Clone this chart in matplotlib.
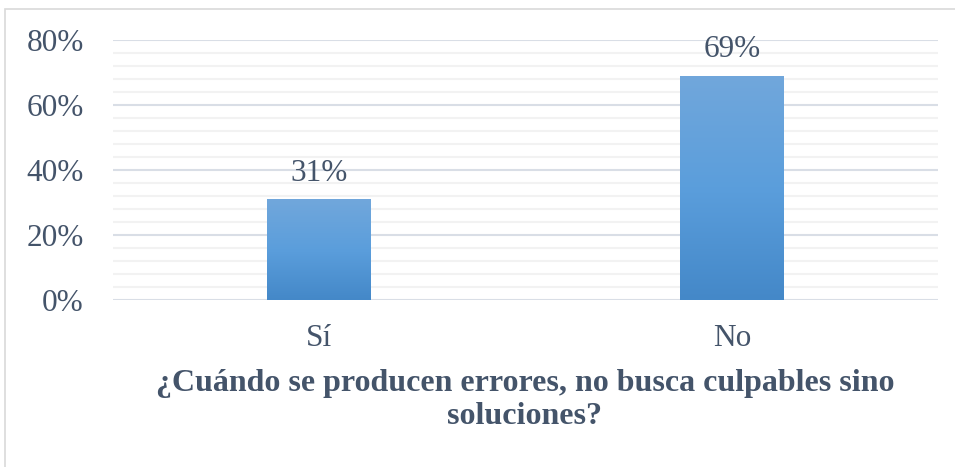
import numpy as np
import matplotlib.pyplot as plt
from matplotlib.patches import Rectangle
from matplotlib.colors import LinearSegmentedColormap

categories = ['Sí', 'No']
values = [0.31, 0.69]
value_labels = ['31%', '69%']
ytick_values = [0.0, 0.2, 0.4, 0.6, 0.8]
ytick_labels = ['0%', '20%', '40%', '60%', '80%']
title = '¿Cuándo se producen errores, no busca culpables sino\nsoluciones?'

TEXT = '#44546A'
plt.rcParams['font.family'] = ['Liberation Serif', 'DejaVu Serif']

fig = plt.figure(figsize=(9.55, 4.67), dpi=100)
# outer chart frame
fig.patches.append(Rectangle((5 / 955, -0.1), 1.0, 1 - 9 / 467 + 0.1,
                             transform=fig.transFigure, fill=False,
                             edgecolor='#D9D9D9', linewidth=1.2))

ax = fig.add_axes([113 / 955, 1 - 300 / 467, 825 / 955, 260 / 467])

# major and minor gridlines
for y in np.arange(0.04, 0.8, 0.04):
    if abs(y / 0.2 - round(y / 0.2)) > 1e-6:
        ax.axhline(y, color='#F2F2F2', linewidth=1.5, zorder=0)
for y in ytick_values:
    ax.axhline(y, color='#D9DEE6', linewidth=1.5, zorder=0)

grad = LinearSegmentedColormap.from_list('bar', ['#4488C8', '#5B9EDC', '#71A7DB'])
x = np.arange(len(categories))
bars = ax.bar(x, values, width=0.252, color='none', zorder=2)
for bar, lab in zip(bars, value_labels):
    x0, w, h = bar.get_x(), bar.get_width(), bar.get_height()
    img = ax.imshow(np.linspace(0, 1, 256).reshape(-1, 1), cmap=grad,
                    extent=[x0, x0 + w, 0, h], origin='lower',
                    aspect='auto', zorder=2)
    img.set_clip_path(bar)
    ax.text(x0 + w / 2, h + 0.035, lab, ha='center', va='bottom',
            fontsize=22.5, color=TEXT)

ax.set_aspect('auto')
ax.set_xlim(-0.5, 1.5)
ax.set_ylim(0, 0.8)
ax.set_xticks(x)
ax.set_xticklabels(categories, fontsize=22.5, color=TEXT)
ax.set_yticks(ytick_values)
ax.set_yticklabels(ytick_labels, fontsize=22.5, color=TEXT)
ax.tick_params(length=0)
ax.tick_params(axis='y', pad=21)
ax.tick_params(axis='x', pad=17)
for s in ax.spines.values():
    s.set_visible(False)

fig.text(525 / 955, 1 - 400 / 467, title, ha='center', va='center',
         fontsize=23, fontweight='bold', color=TEXT, linespacing=1.18)

fig.savefig('out.png', dpi=100)
